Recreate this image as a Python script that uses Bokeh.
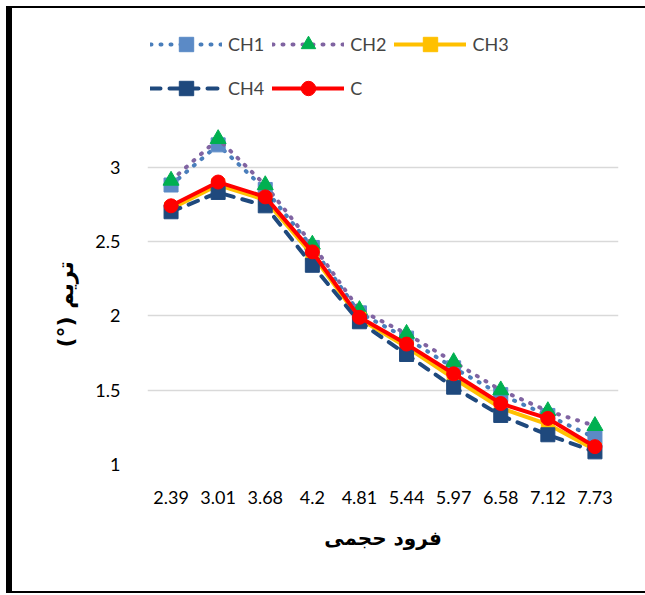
from bokeh.plotting import figure
from bokeh.models import (FactorRange, Range1d, FixedTicker, NumeralTickFormatter,
                          Legend, LegendItem, Spacer, Title)
from bokeh.layouts import row, column
from bokeh.embed import file_html
from bokeh.resources import INLINE

# ---- data ----
x_labels = ["2.39", "3.01", "3.68", "4.2", "4.81", "5.44", "5.97", "6.58", "7.12", "7.73"]
ch1 = [2.88, 3.15, 2.85, 2.46, 2.02, 1.85, 1.65, 1.47, 1.33, 1.18]
ch2 = [2.91, 3.19, 2.88, 2.48, 2.04, 1.88, 1.69, 1.50, 1.36, 1.26]
ch3 = [2.72, 2.88, 2.78, 2.41, 1.98, 1.79, 1.58, 1.38, 1.27, 1.10]
ch4 = [2.70, 2.83, 2.74, 2.34, 1.96, 1.74, 1.52, 1.33, 1.20, 1.085]
c_vals = [2.74, 2.90, 2.80, 2.43, 1.99, 1.81, 1.61, 1.41, 1.31, 1.12]
series_names = ["CH1", "CH2", "CH3", "CH4", "C"]
y_ticks = [1, 1.5, 2, 2.5, 3]
x_title = "فرود حجمی"
# trailing RLM keeps the bracket on the left in right-to-left order
y_title = "تریم (°)\u200f"

series_values = [ch1, ch2, ch3, ch4, c_vals]
styles = [
    dict(color="#4A7EBB", dash="1 9", width=4, marker="square", mcolor="#5B8AC6", msize=14),
    dict(color="#8064A2", dash="1 9", width=4, marker="triangle", mcolor="#00B050", msize=16),
    dict(color="#FFC000", dash="solid", width=4, marker="square", mcolor="#FFC000", msize=13),
    dict(color="#1F497D", dash="10 9", width=4, marker="square", mcolor="#1F497D", msize=14),
    dict(color="#FF0000", dash="solid", width=4, marker="circle", mcolor="#FF0000", msize=14),
]

FONT = "Lato"
AR_FONT = "DejaVu Sans"

p = figure(width=633, height=583,
           x_range=FactorRange(*x_labels), y_range=Range1d(1, 4.0),
           output_backend="svg", toolbar_location=None,
           min_border_left=135, min_border_right=27,
           min_border_top=10, min_border_bottom=127)
p.outline_line_color = None
p.background_fill_color = "white"
p.border_fill_color = "white"

p.xgrid.visible = False
p.ygrid.grid_line_color = "#d9d9d9"
p.ygrid.grid_line_width = 1.5

for ax in (p.xaxis[0], p.yaxis[0]):
    ax.axis_line_color = None
    ax.major_tick_line_color = None
    ax.minor_tick_line_color = None
    ax.major_label_text_font = FONT
    ax.major_label_text_font_size = "18px"
    ax.major_label_text_color = "black"
    ax.axis_label_text_font = AR_FONT
    ax.axis_label_text_font_style = "bold"
    ax.axis_label_text_color = "black"
    ax.axis_label_text_font_size = "20px"

p.xaxis[0].major_label_standoff = 20
p.xaxis[0].axis_label = x_title
p.xaxis[0].axis_label_standoff = 19
p.yaxis[0].major_label_standoff = 21
p.yaxis[0].ticker = FixedTicker(ticks=y_ticks)
p.yaxis[0].formatter = NumeralTickFormatter(format="0.[0]")

# y title as a side title so it can sit lower, like the reference
p.add_layout(Title(text=y_title, align="left", offset=117, standoff=30,
                   text_font=AR_FONT, text_font_style="bold", text_font_size="22px",
                   text_color="black"), "left")

items = []
for name, vals, st in zip(series_names, series_values, styles):
    lr = p.line(x_labels, vals, line_color=st["color"], line_width=st["width"],
                line_dash=st["dash"], line_cap="round", line_join="round")
    sr = p.scatter(x_labels, vals, marker=st["marker"], size=st["msize"],
                   fill_color=st["mcolor"], line_color=st["mcolor"])
    items.append(LegendItem(label=name, renderers=[lr, sr]))

legend = Legend(items=items, location=(3, 358), orientation="horizontal", ncols=3,
                glyph_width=72, glyph_height=36, label_standoff=6, spacing=8,
                padding=0, margin=0, border_line_color=None, background_fill_alpha=0,
                label_text_font=FONT, label_text_font_size="18px")
p.add_layout(legend)

# black frame around the chart (thick on the left, thin top/bottom)
left_bar = Spacer(width=6, height=587, styles={"background-color": "black"})
top_bar = Spacer(width=633, height=2, styles={"background-color": "black"})
bottom_bar = Spacer(width=633, height=2, styles={"background-color": "black"})
inner = column(top_bar, p, bottom_bar, spacing=0)
page = column(Spacer(height=6, width=645),
              row(Spacer(width=6, height=587), left_bar, inner, spacing=0),
              spacing=0)

open("out.html", "w").write(file_html(page, INLINE))
